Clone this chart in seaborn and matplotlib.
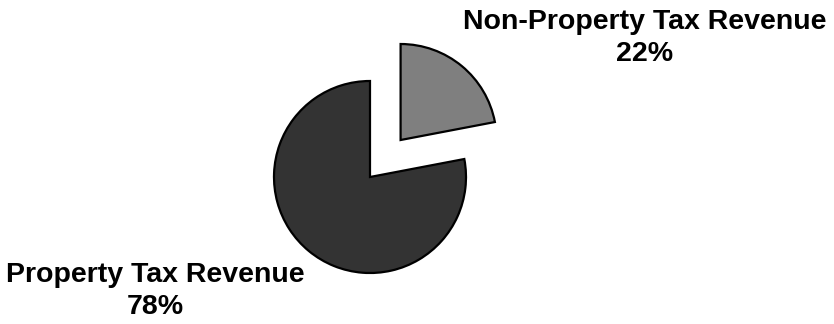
import matplotlib
matplotlib.use("Agg")
import matplotlib.pyplot as plt
import seaborn as sns

sns.set_theme(style="white")
plt.rcParams["font.family"] = ["Liberation Sans", "DejaVu Sans"]

# data
categories = ["Non-Property Tax Revenue", "Property Tax Revenue"]
shares = [22, 78]
colors = ["#7f7f7f", "#333333"]
explode = [0.5, 0.0]

fig = plt.figure(figsize=(8.34, 3.24), dpi=100)
ax = fig.add_axes([0, 0, 1, 1])

ax.pie(shares, colors=colors, explode=explode, startangle=90, counterclock=False,
       radius=1.0, wedgeprops={"edgecolor": "black", "linewidth": 1.6})

# pixel scale ~96 px per radius unit, dark wedge centre at (370, 177)
s = 96.0
ax.set_xlim(-370 / s, (834 - 370) / s)
ax.set_ylim(-(324 - 177) / s, 177 / s)
ax.set_aspect("auto")
ax.axis("off")

label_pos = [(2.865, 1.45), (-2.24, -1.19)]
for cat, val, (x, y) in zip(categories, shares, label_pos):
    ax.text(x, y, f"{cat}\n{val}%", ha="center", va="center",
            fontsize=20.5, fontweight="bold", color="black", linespacing=1.3)

fig.savefig("out.png", dpi=100)
